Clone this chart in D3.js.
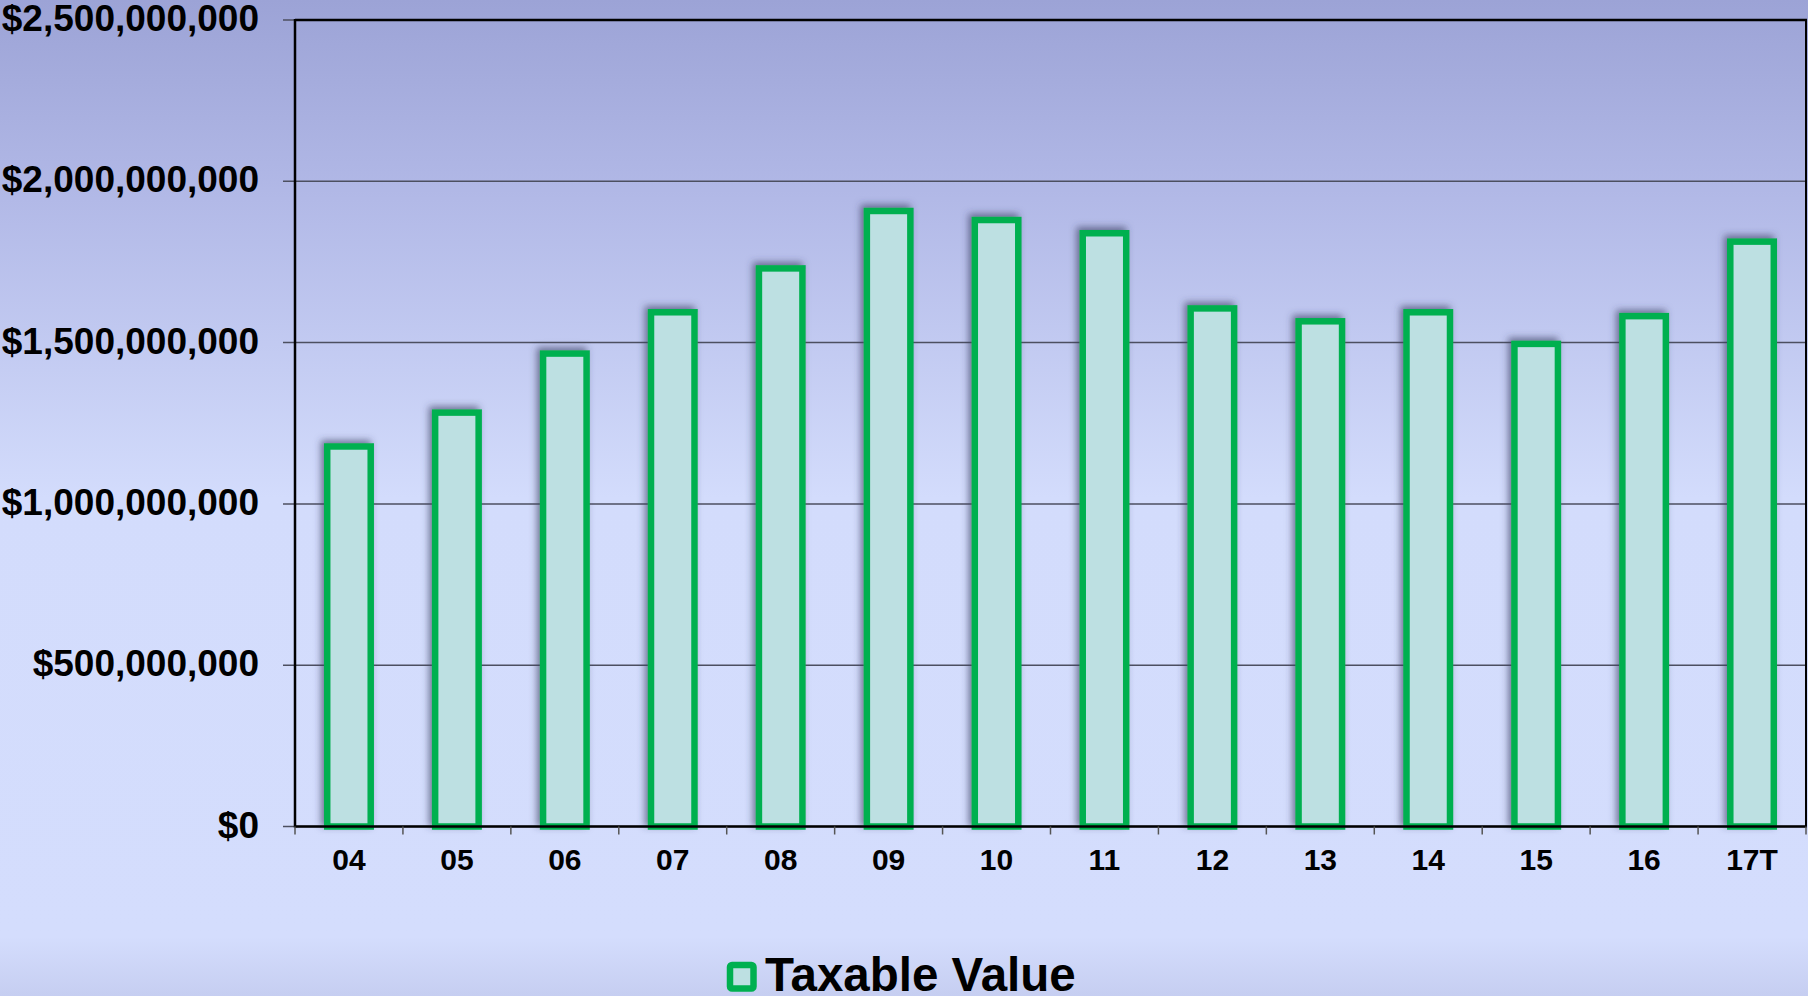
<!DOCTYPE html>
<html>
<head>
<meta charset="utf-8">
<script src="https://cdn.jsdelivr.net/npm/d3@7"></script>
<style>
  html, body { margin: 0; padding: 0; background: #d4ddfd; }
  svg { display: block; font-family: "Liberation Sans", Arial, Helvetica, sans-serif; }
</style>
</head>
<body>
<svg id="chart" width="1808" height="996"></svg>
<script>
// Fiscal years and taxable value (USD)
const years = ["04", "05", "06", "07", "08", "09", "10", "11", "12", "13", "14", "15", "16", "17T"];
const taxableValue = [
  1178000000, 1283000000, 1466000000, 1594000000, 1730000000, 1908000000, 1880000000,
  1839000000, 1606000000, 1566000000, 1594000000, 1496000000, 1582000000, 1813000000
];
const yTicks = [0, 500000000, 1000000000, 1500000000, 2000000000, 2500000000];
const seriesName = "Taxable Value";

const W = 1808, H = 996;
const plot = { left: 295, right: 1806, top: 20, bottom: 826.5 };
const barStroke = "#00b050", barFill = "#bde0e2";

const svg = d3.select("#chart");
const defs = svg.append("defs");

// Background: bluish-violet at the top fading to pale periwinkle
const bg = defs.append("linearGradient").attr("id", "bg")
  .attr("x1", 0).attr("y1", 0).attr("x2", 0).attr("y2", 1);
bg.append("stop").attr("offset", "0%").attr("stop-color", "#9ca3d6");
bg.append("stop").attr("offset", "20%").attr("stop-color", "#b2b9e7");
bg.append("stop").attr("offset", "50%").attr("stop-color", "#d3dcfc");
bg.append("stop").attr("offset", "94%").attr("stop-color", "#d4ddfd");
bg.append("stop").attr("offset", "100%").attr("stop-color", "#c6cef1");
svg.append("rect").attr("width", W).attr("height", H).attr("fill", "url(#bg)");

// Soft shadow behind bars
const sh = defs.append("filter").attr("id", "shadow")
  .attr("x", "-40%").attr("y", "-10%").attr("width", "180%").attr("height", "120%");
sh.append("feDropShadow").attr("dx", -3).attr("dy", -3).attr("stdDeviation", 3.5)
  .attr("flood-color", "#3a3f60").attr("flood-opacity", 0.65);

const x = d3.scaleBand().domain(years)
  .range([plot.left, plot.right])
  .paddingInner(0.597).paddingOuter(0.2985);
const step = x.step();
const y = d3.scaleLinear().domain([0, 2500000000]).range([plot.bottom, plot.top]);
const fmt = d3.format("$,");

// Gridlines with short outward ticks on the value axis
const grid = svg.append("g");
grid.selectAll("line").data(yTicks).join("line")
  .attr("x1", plot.left - 12).attr("x2", plot.right)
  .attr("y1", d => y(d)).attr("y2", d => y(d))
  .attr("stroke", "#4c4f60").attr("stroke-width", 1.5);

// Value axis labels
svg.append("g").selectAll("text").data(yTicks).join("text")
  .attr("x", 259).attr("y", d => y(d) + 11)
  .attr("text-anchor", "end")
  .attr("font-size", 37).attr("font-weight", "bold").attr("fill", "#000")
  .text(d => fmt(d));

// Bars
svg.append("g").selectAll("rect").data(years).join("rect")
  .attr("x", d => x(d))
  .attr("y", (d, i) => y(taxableValue[i]))
  .attr("width", x.bandwidth())
  .attr("height", (d, i) => y(0) - y(taxableValue[i]))
  .attr("fill", barFill)
  .attr("stroke", barStroke).attr("stroke-width", 6.5)
  .attr("filter", "url(#shadow)");

// Plot frame
const frame = svg.append("g").attr("stroke", "#000").attr("fill", "none");
frame.append("line").attr("x1", plot.left).attr("x2", plot.right + 1)
  .attr("y1", plot.top).attr("y2", plot.top).attr("stroke-width", 2.5);
frame.append("line").attr("x1", plot.right).attr("x2", plot.right)
  .attr("y1", plot.top).attr("y2", plot.bottom).attr("stroke-width", 2);
frame.append("line").attr("x1", plot.left).attr("x2", plot.left)
  .attr("y1", plot.top - 1).attr("y2", plot.bottom + 1).attr("stroke-width", 2.5);
frame.append("line").attr("x1", plot.left).attr("x2", plot.right + 1)
  .attr("y1", plot.bottom).attr("y2", plot.bottom).attr("stroke-width", 2.5);

// Category ticks at band boundaries
const boundaries = d3.range(years.length + 1).map(i => plot.left + i * step);
svg.append("g").selectAll("line").data(boundaries).join("line")
  .attr("x1", d => d).attr("x2", d => d)
  .attr("y1", plot.bottom).attr("y2", plot.bottom + 8)
  .attr("stroke", "#555").attr("stroke-width", 1.5);

// Category labels
svg.append("g").selectAll("text").data(years).join("text")
  .attr("x", d => x(d) + x.bandwidth() / 2)
  .attr("y", 870)
  .attr("text-anchor", "middle")
  .attr("font-size", 30).attr("font-weight", "bold").attr("fill", "#000")
  .text(d => d);

// Legend
const lg = svg.append("g");
lg.append("rect").attr("x", 730).attr("y", 965).attr("width", 23.5).attr("height", 23.5)
  .attr("rx", 2).attr("fill", barFill).attr("stroke", barStroke).attr("stroke-width", 6.5);
lg.append("text").attr("x", 765).attr("y", 991)
  .attr("font-size", 47.5).attr("font-weight", "bold").attr("fill", "#000")
  .text(seriesName);
</script>
</body>
</html>
